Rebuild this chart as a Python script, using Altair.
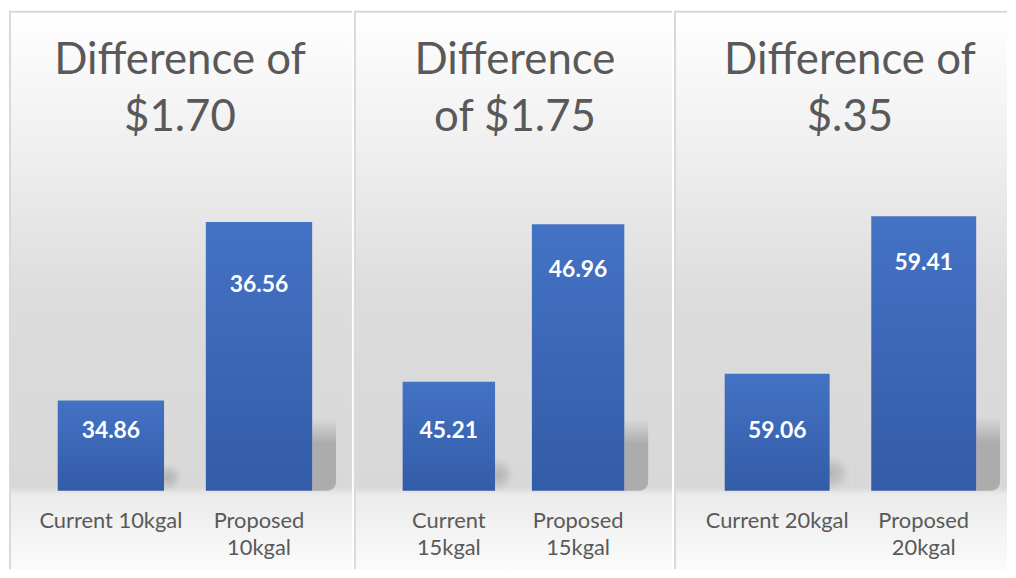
import altair as alt
import pandas as pd

# ---------------- data ----------------
panel_keys = ["10kgal", "15kgal", "20kgal"]
titles = ["Difference of\n$1.70", "Difference\nof $1.75", "Difference of\n$.35"]
categories = [["Current 10kgal", "Proposed 10kgal"],
              ["Current 15kgal", "Proposed 15kgal"],
              ["Current 20kgal", "Proposed 20kgal"]]
tick_labels = [["Current 10kgal", "Proposed\n10kgal"],
               ["Current\n15kgal", "Proposed\n15kgal"],
               ["Current 20kgal", "Proposed\n20kgal"]]
current_values = [34.86, 45.21, 59.06]
proposed_values = [36.56, 46.96, 59.41]
y_limits = [[34, 37], [44, 47.5], [58.8, 59.5]]

# ---------------- layout / style ----------------
FONT = "Lato"
H = 562
panel_widths = [345, 320, 335]
x_ranges = [[49, 305], [49, 272], [51, 304]]
pad_inner = [0.282, 0.285, 0.284]
title_x = [172, 162, 177]
label_dy = [[31, 64], [49, 46], [58, 47]]
Y_RANGE = [483, 166]
GREY_TEXT = "#595959"
BORDER = "#d9d9d9"

bg_grad = alt.LinearGradient(
    gradient="linear", x1=0, y1=0, x2=0, y2=1,
    stops=[
        alt.GradientStop(offset=0.0, color="#ffffff"),
        alt.GradientStop(offset=0.25, color="#efefef"),
        alt.GradientStop(offset=0.52, color="#dcdcdc"),
        alt.GradientStop(offset=0.853, color="#d8d8d8"),
        alt.GradientStop(offset=0.866, color="#ebebeb"),
        alt.GradientStop(offset=1.0, color="#fbfbfb"),
    ],
)
bar_grad = alt.LinearGradient(
    gradient="linear", x1=0, y1=0, x2=0, y2=1,
    stops=[
        alt.GradientStop(offset=0.0, color="#4472c4"),
        alt.GradientStop(offset=1.0, color="#335ca8"),
    ],
)
tall_shadow_grad = alt.LinearGradient(
    gradient="linear", x1=0, y1=0, x2=0, y2=1,
    stops=[
        alt.GradientStop(offset=0.0, color="rgba(172,172,172,0)"),
        alt.GradientStop(offset=0.35, color="rgba(172,172,172,1)"),
        alt.GradientStop(offset=1.0, color="rgba(172,172,172,1)"),
    ],
)
short_shadow_grad = alt.RadialGradient(
    gradient="radial", x1=0.27, y1=0.55, r1=0, x2=0.27, y2=0.55, r2=0.55,
    stops=[
        alt.GradientStop(offset=0.0, color="rgba(180,180,180,1)"),
        alt.GradientStop(offset=0.45, color="rgba(190,190,190,0.75)"),
        alt.GradientStop(offset=1.0, color="rgba(216,216,216,0)"),
    ],
)


def make_panel(i):
    W = panel_widths[i]
    lo, hi = y_limits[i]
    r0, r1 = x_ranges[i]
    step = (r1 - r0) / (2 - pad_inner[i])
    bw = step * (1 - pad_inner[i])

    df = pd.DataFrame({
        "cat": categories[i],
        "label": tick_labels[i],
        "value": [current_values[i], proposed_values[i]],
    })
    xs = alt.Scale(domain=categories[i], range=[r0, r1],
                   paddingInner=pad_inner[i], paddingOuter=0)
    ys = alt.Scale(domain=[lo, hi], range=Y_RANGE, zero=False, nice=False)
    X = alt.X("cat:N", scale=xs, axis=None, sort=categories[i])
    Y = alt.Y("value:Q", scale=ys, axis=None)

    base = alt.Chart(df)
    one = alt.Chart(pd.DataFrame({"t": [titles[i]]}))

    bg = one.mark_rect(fill=bg_grad, stroke=None).encode(
        x=alt.value(0), x2=alt.value(W), y=alt.value(0), y2=alt.value(H))

    cur = categories[i][0]
    short_shadow = base.transform_filter(alt.datum.cat == cur).transform_calculate(
        stop=f"{lo} + (datum.value - {lo}) * 0.33"
    ).mark_bar(width=30, xOffset=bw / 2 + 11, fill=short_shadow_grad, stroke=None).encode(
        x=X,
        y=alt.Y("stop:Q", scale=ys, axis=None),
        y2=alt.datum(lo),
    )
    tall_shadow = base.transform_filter(alt.datum.cat != cur).transform_calculate(
        stop=f"{lo} + (datum.value - {lo}) * 0.27"
    ).mark_bar(width=24, xOffset=bw / 2 + 12, fill=tall_shadow_grad, stroke=None,
               cornerRadiusBottomRight=9).encode(
        x=X,
        y=alt.Y("stop:Q", scale=ys, axis=None),
        y2=alt.datum(lo),
    )

    bars = base.mark_bar(fill=bar_grad, stroke=None).encode(
        x=X, y=Y, y2=alt.datum(lo))

    vals = []
    for j, c in enumerate(categories[i]):
        vals.append(
            base.transform_filter(alt.datum.cat == c).mark_text(
                font=FONT, fontSize=23, fontWeight="bold", color="white",
                baseline="middle", dy=label_dy[i][j]
            ).encode(x=X, y=Y, text=alt.Text("value:Q", format=".2f"))
        )

    ticks = base.mark_text(
        font=FONT, fontSize=22, color=GREY_TEXT, baseline="alphabetic",
        lineBreak="\n", lineHeight=28, align="center"
    ).encode(x=X, y=alt.value(520), text="label:N")

    title = one.mark_text(
        font=FONT, fontSize=44, color=GREY_TEXT, baseline="alphabetic",
        lineBreak="\n", lineHeight=57, align="center"
    ).encode(x=alt.value(title_x[i]), y=alt.value(64), text="t:N")

    borders = [
        one.mark_rule(color=BORDER, strokeWidth=2).encode(
            x=alt.value(1), y=alt.value(0), y2=alt.value(H)),
        one.mark_rule(color=BORDER, strokeWidth=2).encode(
            x=alt.value(0), x2=alt.value(W), y=alt.value(1)),
    ]

    layers = [bg, short_shadow, tall_shadow, bars] + vals + [ticks, title] + borders
    return alt.layer(*layers).properties(width=W, height=H)


chart = alt.hconcat(*[make_panel(i) for i in range(3)], spacing=0).properties(
    padding=0
).configure_view(stroke=None).resolve_scale(x="independent", y="independent")

chart.save("out.html", embed_options={"renderer": "svg", "actions": False})
